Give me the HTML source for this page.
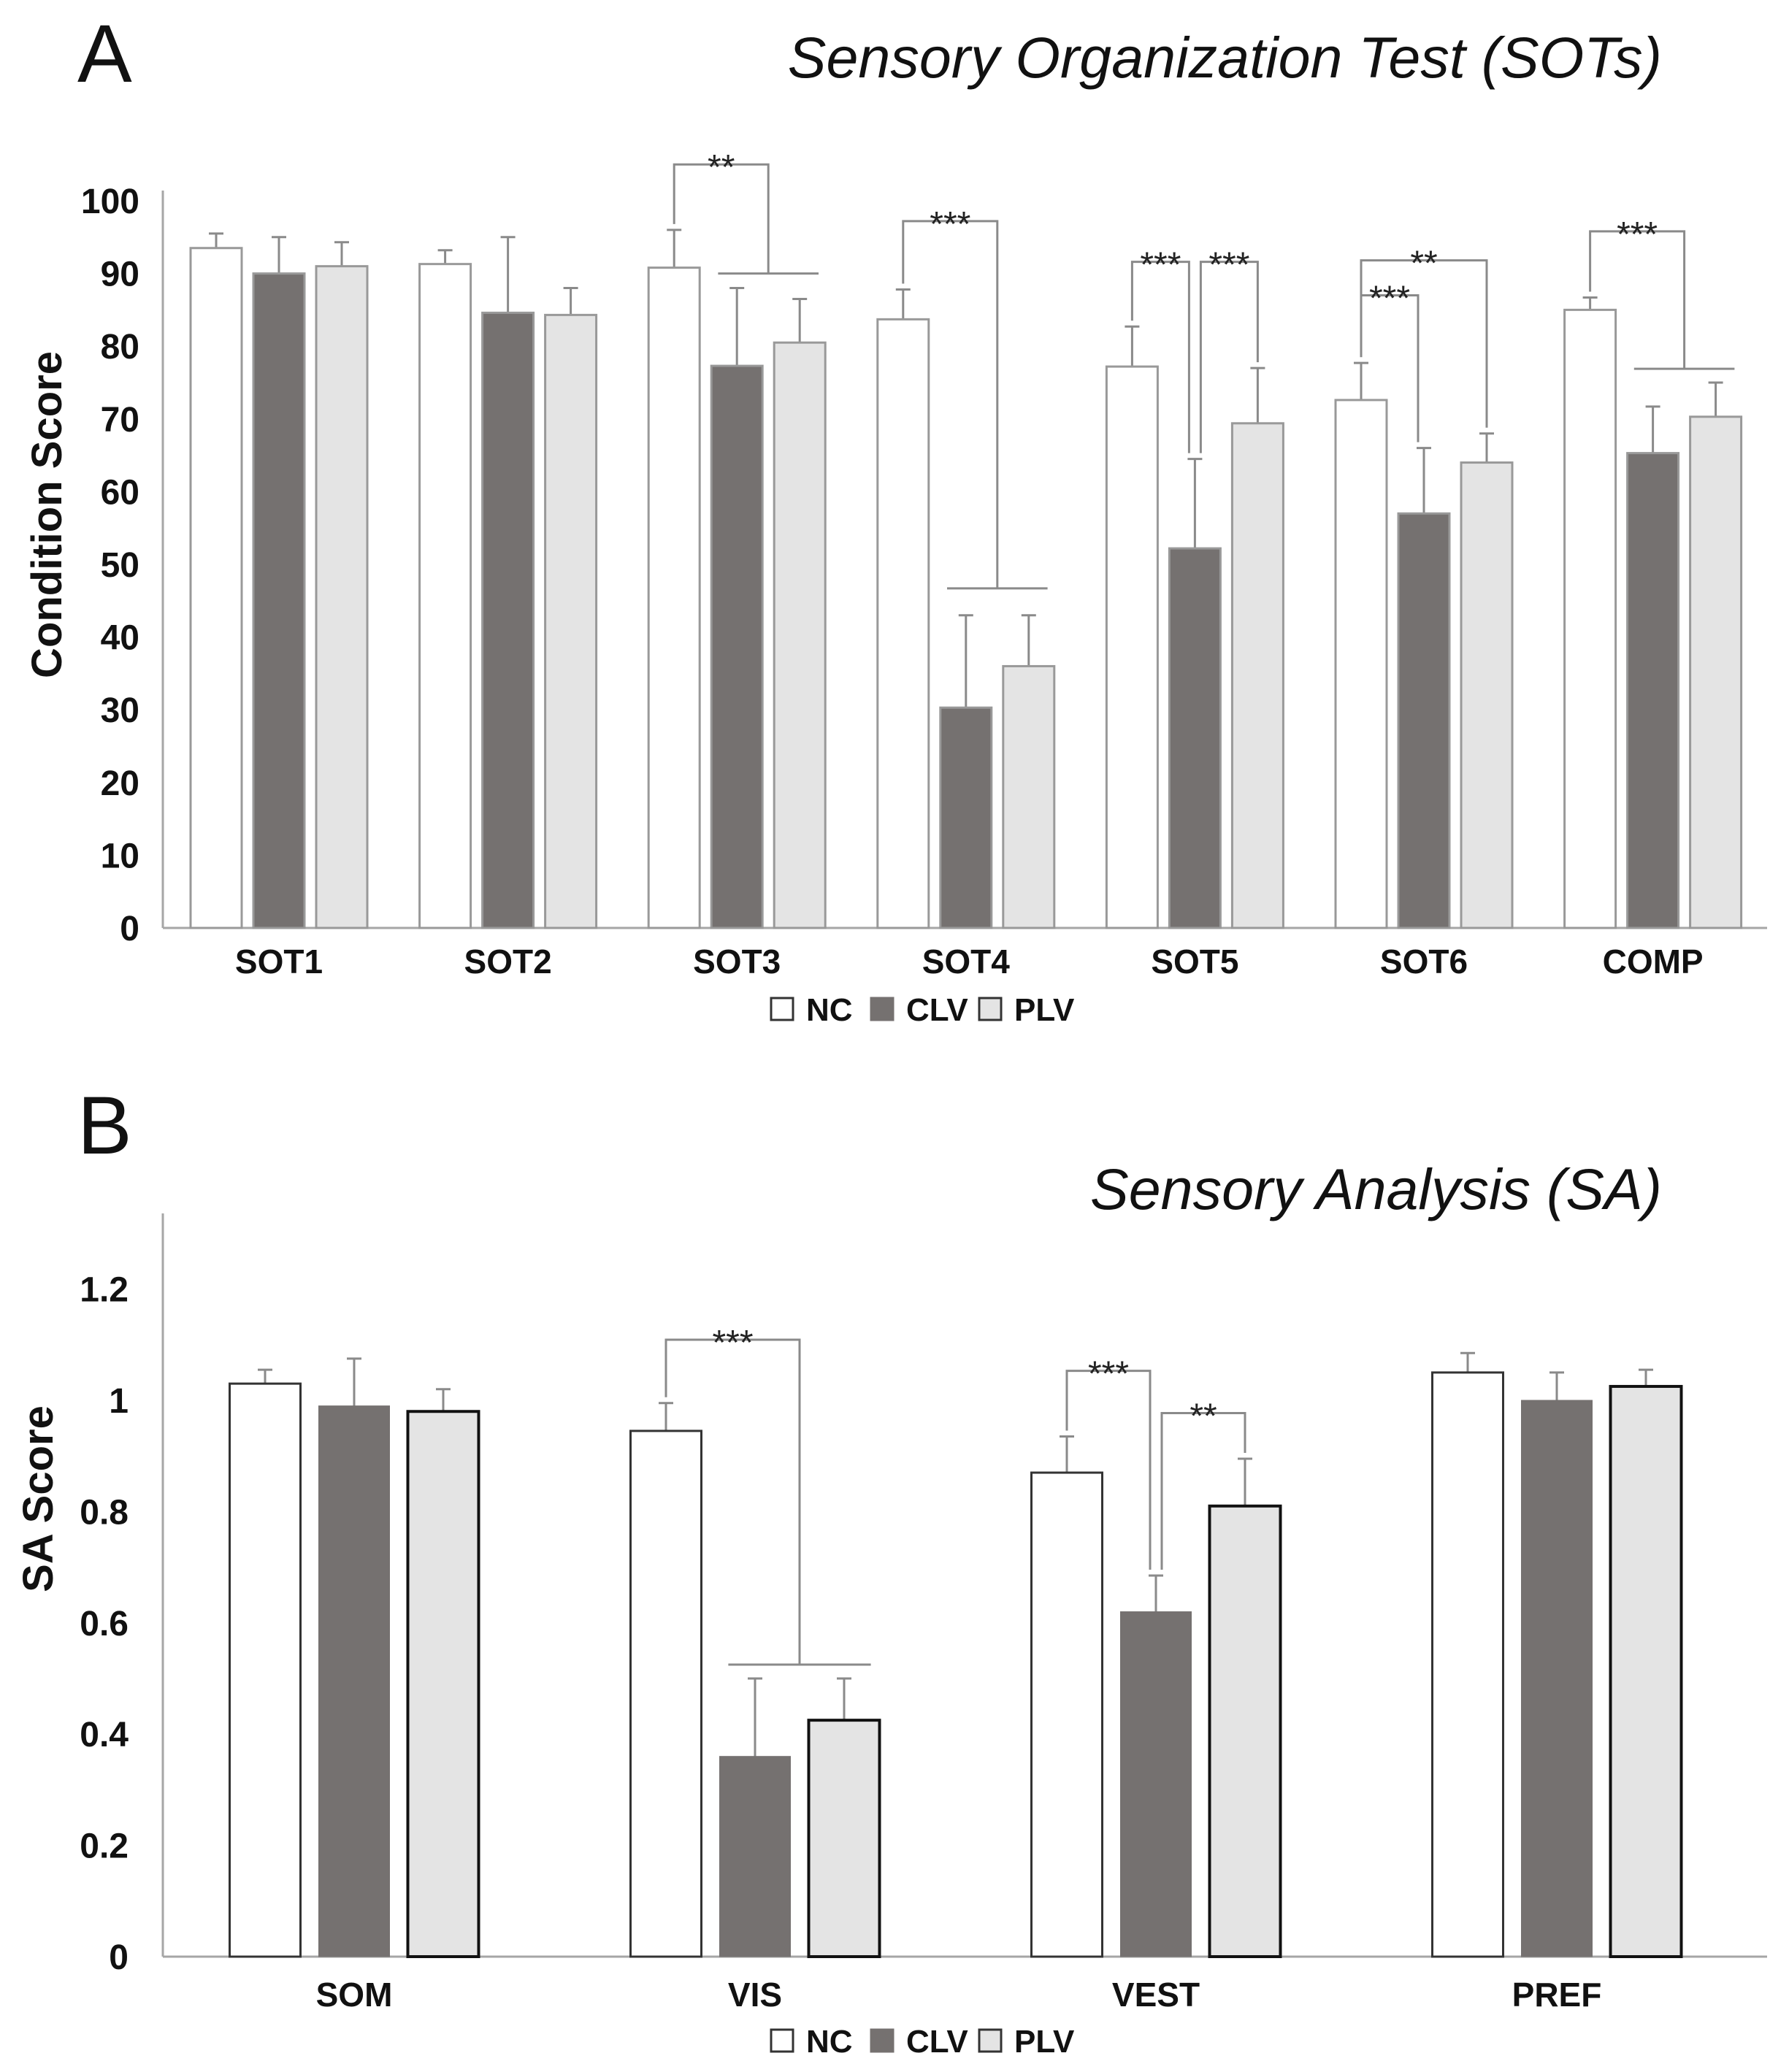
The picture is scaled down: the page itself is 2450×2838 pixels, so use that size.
<!DOCTYPE html>
<html><head><meta charset="utf-8"><style>
html,body{margin:0;padding:0;background:#fff;}
svg{display:block;font-family:"Liberation Sans",Arial,sans-serif;}
</style></head><body>
<svg id="fig" width="2450" height="2838" viewBox="0 0 2450 2838" xmlns="http://www.w3.org/2000/svg">
<text x="106" y="112" font-size="112" fill="#111">A</text>
<text x="2276" y="106" font-size="79" font-style="italic" text-anchor="end" fill="#111">Sensory Organization Test (SOTs)</text>
<text x="106" y="1580" font-size="112" fill="#111">B</text>
<text x="2276" y="1656" font-size="79" font-style="italic" text-anchor="end" fill="#111">Sensory Analysis (SA)</text>
<g id="ga"></g>
<g id="gb"></g>
</svg>
<script>
// ---- Chart A data ----
const catsA = ["SOT1","SOT2","SOT3","SOT4","SOT5","SOT6","COMP"];
const ncA  = [93.5,91.3,90.8,83.7,77.2,72.6,85.0];
const clvA = [90.0,84.6,77.3,30.3,52.2,57.0,65.3];
const plvA = [91.0,84.3,80.5,36.0,69.4,64.0,70.3];
const ncAErr  = [95.5,93.2,96.0,87.8,82.7,77.7,86.7];
const clvAErr = [95.0,95.0,88.0,43.0,64.5,66.0,71.7];
const plvAErr = [94.3,88.0,86.5,43.0,77.0,68.0,75.0];
const ticksA = [0,10,20,30,40,50,60,70,80,90,100];
// brackets: [group, fromSeries, toSeries(-1=group of CLV+PLV), topValue, capValue, label]
const bracketsA = [[2,0,-1,105,90,"**"],[3,0,-1,97.2,46.7,"***"],[4,0,1,91.6,0,"***"],[4,1,2,91.6,0,"***"],[5,0,1,87,0,"***"],[5,0,2,91.8,0,"**"],[6,0,-1,95.8,76.9,"***"]];
// ---- Chart B data ----
const catsB = ["SOM","VIS","VEST","PREF"];
const ncB  = [1.03,0.945,0.87,1.05];
const clvB = [0.99,0.36,0.62,1.0];
const plvB = [0.98,0.425,0.81,1.025];
const ncBErr  = [1.055,0.995,0.935,1.085];
const clvBErr = [1.075,0.50,0.685,1.05];
const plvBErr = [1.02,0.50,0.895,1.055];
const ticksB = [0,0.2,0.4,0.6,0.8,1,1.2];
const tickLabelsB = ["0","0.2","0.4","0.6","0.8","1","1.2"];
const bracketsB = [[1,0,-1,1.109,0.525,"***"],[2,0,1,1.053,0,"***"],[2,1,2,0.977,0,"**"]];

const NS="http://www.w3.org/2000/svg";
function mk(parent,tag,attrs,txt){const e=document.createElementNS(NS,tag);for(const k in attrs)e.setAttribute(k,attrs[k]);if(txt!==undefined)e.textContent=txt;parent.appendChild(e);return e;}

function drawChart(g,cfg){
  const y=v=>cfg.base-(v-0)*cfg.pxPer;
  const cx=(i,s)=>cfg.c0+i*cfg.sp+(s-1)*cfg.pitch;
  const ax=mk(g,"line",{x1:cfg.ax,y1:cfg.axTop,x2:cfg.ax,y2:cfg.base,stroke:"#a6a6a6","stroke-width":3});
  
  
  const bx=mk(g,"line",{x1:cfg.ax,y1:cfg.base,x2:2420,y2:cfg.base,stroke:"#a6a6a6","stroke-width":3});
  
  
  cfg.ticks.forEach((t,k)=>{
    const tl=mk(g,"text",{x:cfg.tickX,y:y(t)+17+cfg.tickDy,"font-size":48,"font-weight":"bold","text-anchor":"end",fill:"#111"},cfg.tickLabels[k]);
    
    
  });
  const yt=mk(g,"text",{x:0,y:0,"font-size":58,"font-weight":"bold","text-anchor":"middle",fill:"#111",transform:`translate(${cfg.ytX},${cfg.ytY}) rotate(-90)`},cfg.yTitle);
  
  
  const fills=["#ffffff","#757170","#e4e4e4"];
  const names=["nc","clv","plv"];
  cfg.cats.forEach((c,i)=>{
    const xl=mk(g,"text",{x:cfg.c0+i*cfg.sp,y:cfg.xlY,"font-size":46,"font-weight":"bold","text-anchor":"middle",fill:"#111"},c);
    
    
    cfg.vals.forEach((arr,s)=>{
      const x=cx(i,s), v=arr[i], e=cfg.errs[s][i];
      const el=mk(g,"line",{x1:x,y1:y(v),x2:x,y2:y(e),stroke:"#8a8a8a","stroke-width":3});
      
      
      const ec=mk(g,"line",{x1:x-10,y1:y(e),x2:x+10,y2:y(e),stroke:"#8a8a8a","stroke-width":3});
      
      
      const r=mk(g,"rect",{x:x-cfg.bw/2,y:y(v),width:cfg.bw,height:cfg.base-y(v),fill:fills[s],stroke:cfg.strokes[s],"stroke-width":cfg.sw[s]});
      
      
    });
  });
  cfg.brackets.forEach(b=>{
    const [i,a,t,top,cap,lab]=b;
    const xa=cx(i,a)+(t>=0&&a===1?8:0);
    let xb, yb;
    if(t<0){xb=(cx(i,1)+cx(i,2))/2; yb=y(cap);
      const cl=mk(g,"line",{x1:cx(i,1)-cfg.pitch*0.3,y1:yb,x2:cx(i,2)+cfg.pitch*0.3,y2:yb,stroke:"#8a8a8a","stroke-width":3});
      
      
    } else {xb=cx(i,t)-(t===1?8:0); yb=y(cfg.errs[t][i])-8;}
    const ya=y(cfg.errs[a][i])-8;
    const p=mk(g,"polyline",{points:`${xa},${ya} ${xa},${y(top)} ${xb},${y(top)} ${xb},${yb}`,fill:"none",stroke:"#8a8a8a","stroke-width":3});
    
    
    const st=mk(g,"text",{x:(xa+xb)/2,y:y(top)+20,"font-size":48,"text-anchor":"middle",fill:"#222"},lab);
    
    
  });
  const lg=[["NC",0],["CLV",1],["PLV",2]];
  const lx=[1056,1193,1341];
  lg.forEach((l,k)=>{
    const r=mk(g,"rect",{x:lx[k],y:cfg.legY-15,width:30,height:30,fill:fills[l[1]],stroke:k===1?"#757170":"#333","stroke-width":3});
    
    
    const tx=mk(g,"text",{x:lx[k]+48,y:cfg.legY+16,"font-size":44,"font-weight":"bold",fill:"#111"},l[0]);
    
    
  });
}
drawChart(document.getElementById("ga"),{cats:catsA,vals:[ncA,clvA,plvA],errs:[ncAErr,clvAErr,plvAErr],ticks:ticksA,tickLabels:ticksA.map(String),
  base:1271,pxPer:9.96,ax:223,axTop:261,c0:382,sp:313.6,pitch:86,bw:70,tickX:191,tickDy:0,ytX:84,ytY:705,yTitle:"Condition Score",xlY:1333,
  strokes:["#999","#999","#999"],sw:[3,3,3],brackets:bracketsA,legY:1382});
drawChart(document.getElementById("gb"),{cats:catsB,vals:[ncB,clvB,plvB],errs:[ncBErr,clvBErr,plvBErr],ticks:ticksB,tickLabels:tickLabelsB,
  base:2680,pxPer:762,ax:223,axTop:1662,c0:485,sp:549,pitch:122,bw:97,tickX:176,tickDy:0,ytX:72,ytY:2053,yTitle:"SA Score",xlY:2748,
  strokes:["#333","#757170","#111"],sw:[3,1,4],brackets:bracketsB,legY:2795});
</script>
</body></html>
